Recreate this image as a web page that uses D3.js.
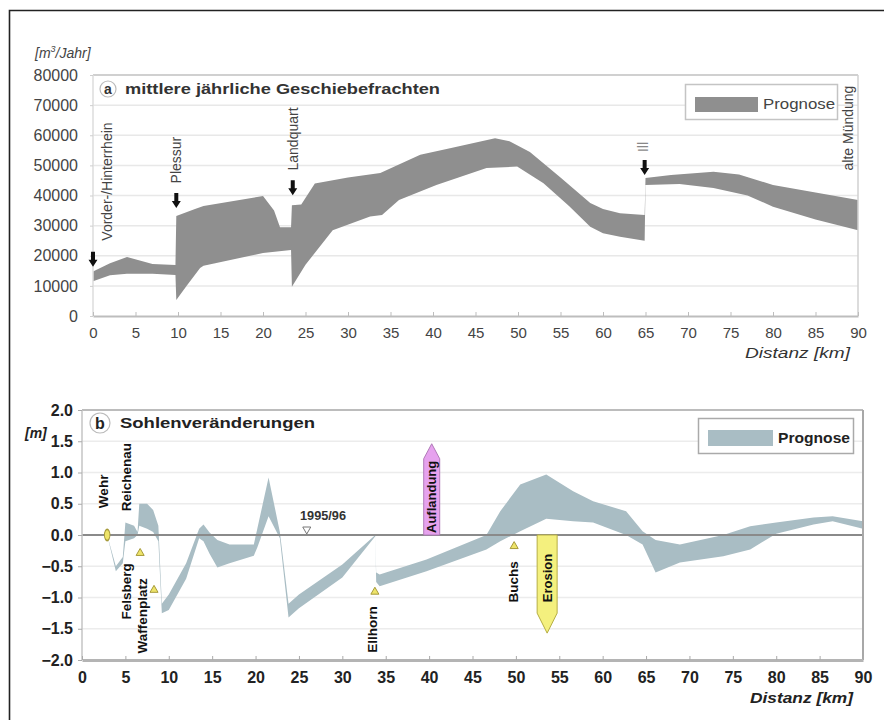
<!DOCTYPE html>
<html>
<head>
<meta charset="utf-8">
<script src="https://cdn.jsdelivr.net/npm/d3@7"></script>
<style>
  body { margin: 0; background: #fff; }
  svg { font-family: "Liberation Sans", Arial, sans-serif; }
</style>
</head>
<body>
<div id="chart"></div>
<script>
// ---- panel a: mittlere jährliche Geschiebefrachten [m3/Jahr] ----
const kmUpperA = [0, 2, 4, 7, 9.7, 9.8, 12, 13, 20, 21.3, 22, 23.3, 23.4, 24.5, 26.1, 30, 33.8, 38.5, 42, 47.3, 49, 51.4, 55, 58.5, 60, 62, 64.9, 65.0, 68, 73, 76, 80, 85, 90];
const upperA = [14800, 17500, 19600, 17300, 16900, 33200, 35500, 36500, 39800, 35000, 29500, 29500, 36800, 37000, 44000, 46000, 47500, 53500, 55700, 59000, 58000, 54400, 46000, 37500, 35500, 34100, 33500, 45800, 46800, 47900, 47000, 43500, 41000, 38500];
const kmLowerA = [0, 2, 4, 7, 9.7, 9.8, 11, 12.6, 13, 20, 23.3, 23.4, 25, 28.2, 32.6, 34, 36, 40.4, 46.3, 49.9, 53, 56, 58.5, 60, 62, 64.9, 65.0, 69, 73, 77, 80, 85, 90];
const lowerA = [11500, 13500, 14000, 14000, 13600, 5300, 10000, 15900, 16700, 20900, 21900, 9700, 17000, 28500, 33000, 33500, 38500, 43500, 49100, 49600, 44100, 36500, 29600, 27500, 26300, 25000, 43500, 43800, 42500, 40000, 36300, 32000, 28500];
const yTicksA = [0, 10000, 20000, 30000, 40000, 50000, 60000, 70000, 80000];
const xTicks = [0, 5, 10, 15, 20, 25, 30, 35, 40, 45, 50, 55, 60, 65, 70, 75, 80, 85, 90];

// tributaries (km, label) and arrow tops [m3/Jahr]
const riversA = ["Vorder-/Hinterrhein", "Plessur", "Landquart", "Ill", "alte Mündung"];
const riverKmA = [1.65, 9.76, 23.5, 64.7, 88.8];
const riverBaseA = [25000, 44000, 48300, 54400, 48300];
const arrowKmA = [0, 9.8, 23.5, 64.9];
const arrowTopA = [21300, 40800, 45100, 51800];

// ---- panel b: Sohlenveränderungen [m] ----
const kmB = [2.9, 3.9, 4.7, 5.0, 6.0, 6.4, 6.6, 7.5, 8.2, 8.8, 9.2, 10, 12, 13.5, 14, 14.7, 15.6, 17, 19.8, 20.2, 21.5, 22.8, 23.8, 25, 30, 33.8, 33.9, 34.3, 39.7, 46.6, 48.2, 50.5, 53.5, 56.6, 58.9, 62.7, 64.6, 66.1, 68.9, 73.9, 77, 80, 84.3, 86.5, 90];
const upperB = [0, -0.5, -0.35, 0.2, 0.15, 0.05, 0.5, 0.5, 0.4, 0.15, -1.1, -0.95, -0.45, 0.1, 0.17, 0.04, -0.08, -0.15, -0.15, 0.1, 0.92, 0.05, -1.1, -0.95, -0.47, 0, -0.6, -0.63, -0.39, 0, 0.38, 0.81, 0.97, 0.7, 0.54, 0.38, 0.06, -0.08, -0.15, 0, 0.14, 0.2, 0.28, 0.3, 0.22];
const lowerB = [0, -0.58, -0.45, -0.1, -0.05, 0, 0.15, 0.1, 0.05, -0.1, -1.25, -1.2, -0.7, -0.05, -0.1, -0.3, -0.52, -0.45, -0.33, -0.2, 0.3, -0.05, -1.32, -1.17, -0.68, -0.02, -0.75, -0.82, -0.58, -0.23, -0.1, 0.06, 0.26, 0.22, 0.2, 0, -0.15, -0.6, -0.44, -0.34, -0.23, 0.02, 0.17, 0.22, 0.1];
const yTicksB = [-2, -1.5, -1, -0.5, 0, 0.5, 1, 1.5, 2];

// gauges / weirs (yellow markers)
const markerKmB = [2.9, 6.7, 8.3, 33.75, 49.8];
const markerValB = [0, -0.29, -0.88, -0.91, -0.18];
// site labels: above = text ends above the zero line, below = hangs under it
const sitesB = ["Wehr", "Reichenau", "Felsberg", "Waffenplatz", "Ellhorn", "Buchs"];
const siteKmB = [2.4, 5.07, 5.07, 7.0, 33.4, 49.7];
const siteValB = [0.43, 0.38, -0.45, -0.69, -1.14, -0.42];
const siteSideB = ["above", "above", "below", "below", "below", "below"];

const width = 884;
const height = 720;

const svg = d3.select("#chart")
    .append("svg")
    .attr("width", width)
    .attr("height", height);

svg.append("rect").attr("width", width).attr("height", height).attr("fill", "#fff");

// outer frame (left + top only are visible)
svg.append("path")
    .attr("d", "M9.5,720 V10.5 H884")
    .attr("fill", "none")
    .attr("stroke", "#222")
    .attr("stroke-width", 1.6);

function vLabel(g, text, x, y, anchor, size, weight, color) {
    g.append("text")
        .attr("transform", `translate(${x},${y}) rotate(-90)`)
        .attr("dy", "0.35em")
        .attr("text-anchor", anchor)
        .attr("font-size", size)
        .attr("font-weight", weight)
        .attr("fill", color)
        .text(text);
}

// =================== panel a ===================
const xA = d3.scaleLinear().domain([0, 90]).range([93, 858]);
const yA = d3.scaleLinear().domain([0, 80000]).range([316, 75]);
const gA = svg.append("g");

gA.append("g")
    .selectAll("line")
    .data(yTicksA.slice(1, -1))
    .join("line")
    .attr("x1", xA(0)).attr("x2", xA(90))
    .attr("y1", d => yA(d)).attr("y2", d => yA(d))
    .attr("stroke", "#e8e8e8")
    .attr("stroke-width", 1.5);

const bandPtsA = kmUpperA.map((k, i) => [k, upperA[i]])
    .concat(kmLowerA.map((k, i) => [k, lowerA[i]]).reverse());
const lineA = d3.line().x(d => xA(d[0])).y(d => yA(d[1]));
gA.append("path")
    .attr("d", lineA(bandPtsA) + "Z")
    .attr("fill", "#8f8f8f");

// frame
gA.append("line").attr("x1", xA(0)).attr("x2", xA(90)).attr("y1", yA(80000)).attr("y2", yA(80000))
    .attr("stroke", "#d0d0d0").attr("stroke-width", 2);
gA.append("line").attr("x1", xA(90)).attr("x2", xA(90)).attr("y1", yA(80000)).attr("y2", yA(0))
    .attr("stroke", "#d0d0d0").attr("stroke-width", 1.5);
gA.append("line").attr("x1", xA(0)).attr("x2", xA(0)).attr("y1", yA(80000)).attr("y2", yA(0))
    .attr("stroke", "#dcdcdc").attr("stroke-width", 1.5);

const axAx = gA.append("g")
    .attr("transform", `translate(0,${yA(0)})`)
    .call(d3.axisBottom(xA).tickValues(xTicks).tickSizeInner(-4).tickSizeOuter(0).tickPadding(11));
axAx.select(".domain").attr("stroke", "#bdbdbd").attr("stroke-width", 2);
axAx.selectAll(".tick line").attr("stroke", "#bdbdbd");
axAx.selectAll("text").attr("font-size", 15).attr("fill", "#444").attr("font-family", null);

const axAy = gA.append("g")
    .attr("transform", `translate(${xA(0)},0)`)
    .call(d3.axisLeft(yA).tickValues(yTicksA).tickFormat(d3.format("d")).tickSizeInner(3).tickSizeOuter(0).tickPadding(12));
axAy.select(".domain").remove();
axAy.selectAll(".tick line").attr("stroke", "#cfcfcf");
axAy.selectAll("text").attr("font-size", 16).attr("fill", "#444").attr("font-family", null);

// unit
const unitA = gA.append("text").attr("x", 35).attr("y", 58)
    .attr("font-size", 14).attr("font-style", "italic").attr("fill", "#444");
unitA.append("tspan").text("[m");
unitA.append("tspan").attr("font-size", 9).attr("dy", -6).text("3");
unitA.append("tspan").attr("dy", 6).text("/Jahr]");

// title
gA.append("circle").attr("cx", 108).attr("cy", 89).attr("r", 8)
    .attr("fill", "none").attr("stroke", "#bbb").attr("stroke-width", 1.2);
gA.append("text").attr("x", 108).attr("y", 94).attr("text-anchor", "middle")
    .attr("font-size", 14).attr("font-weight", "bold").attr("fill", "#333").text("a");
gA.append("text").attr("x", 125).attr("y", 94)
    .attr("font-size", 15).attr("font-weight", "bold").attr("fill", "#333")
    .attr("textLength", 315).attr("lengthAdjust", "spacingAndGlyphs")
    .text("mittlere jährliche Geschiebefrachten");

// legend
gA.append("rect").attr("x", 685.5).attr("y", 84.5).attr("width", 152).attr("height", 35)
    .attr("fill", "#fff").attr("stroke", "#c4c4c4").attr("stroke-width", 1.5);
gA.append("rect").attr("x", 695).attr("y", 97).attr("width", 63).attr("height", 15).attr("fill", "#8f8f8f");
gA.append("text").attr("x", 763).attr("y", 109)
    .attr("font-size", 15).attr("fill", "#444")
    .attr("textLength", 72).attr("lengthAdjust", "spacingAndGlyphs")
    .text("Prognose");

// tributary labels and arrows
riversA.forEach((r, i) => {
    vLabel(gA, r, xA(riverKmA[i]), yA(riverBaseA[i]), "start", 14, "normal", r === "Ill" ? "#888" : "#444");
});
arrowKmA.forEach((k, i) => {
    const x = xA(k), y0 = yA(arrowTopA[i]);
    gA.append("path")
        .attr("d", `M${x - 2},${y0} h4 v8 h2.5 l-4.5,7 l-4.5,-7 h2.5 z`)
        .attr("fill", "#111");
});

gA.append("text").attr("x", 850).attr("y", 358).attr("text-anchor", "end")
    .attr("font-size", 15).attr("font-style", "italic").attr("fill", "#333")
    .attr("textLength", 105).attr("lengthAdjust", "spacingAndGlyphs")
    .text("Distanz [km]");

// =================== panel b ===================
const xB = d3.scaleLinear().domain([0, 90]).range([82, 863]);
const yB = d3.scaleLinear().domain([-2, 2]).range([660, 410]);
const gB = svg.append("g");

gB.append("g")
    .selectAll("line")
    .data(yTicksB.filter(d => d !== 0 && d !== 2 && d !== -2))
    .join("line")
    .attr("x1", xB(0)).attr("x2", xB(90))
    .attr("y1", d => yB(d)).attr("y2", d => yB(d))
    .attr("stroke", "#ececec")
    .attr("stroke-width", 1.5);

const areaB = d3.area()
    .x((d, i) => xB(kmB[i]))
    .y0((d, i) => yB(lowerB[i]))
    .y1((d, i) => yB(upperB[i]));
gB.append("path")
    .attr("d", areaB(kmB))
    .attr("fill", "#a9bdc4");

// zero line
gB.append("line").attr("x1", xB(0)).attr("x2", xB(90)).attr("y1", yB(0)).attr("y2", yB(0))
    .attr("stroke", "#8a8a8a").attr("stroke-width", 2);

// frame
gB.append("line").attr("x1", xB(0)).attr("x2", xB(90)).attr("y1", yB(2)).attr("y2", yB(2))
    .attr("stroke", "#bcbcbc").attr("stroke-width", 2);
gB.append("line").attr("x1", xB(90)).attr("x2", xB(90)).attr("y1", yB(2)).attr("y2", yB(-2))
    .attr("stroke", "#a8a8a8").attr("stroke-width", 2);
gB.append("line").attr("x1", xB(0)).attr("x2", xB(0)).attr("y1", yB(2)).attr("y2", yB(-2))
    .attr("stroke", "#c4c4c4").attr("stroke-width", 1.5);

const axBx = gB.append("g")
    .attr("transform", `translate(0,${yB(-2)})`)
    .call(d3.axisBottom(xB).tickValues(xTicks).tickSizeInner(-4).tickSizeOuter(0).tickPadding(12));
axBx.select(".domain").attr("stroke", "#b4b4b4").attr("stroke-width", 3);
axBx.selectAll(".tick line").attr("stroke", "#aaa");
axBx.selectAll("text").attr("font-size", 16).attr("font-weight", "bold").attr("fill", "#222").attr("font-family", null);

const axBy = gB.append("g")
    .attr("transform", `translate(${xB(0)},0)`)
    .call(d3.axisLeft(yB).tickValues(yTicksB).tickFormat(d3.format(".1f")).tickSizeInner(4).tickSizeOuter(0).tickPadding(5));
axBy.select(".domain").remove();
axBy.selectAll(".tick line").attr("stroke", "#aaa");
axBy.selectAll("text").attr("font-size", 16).attr("font-weight", "bold").attr("fill", "#222").attr("font-family", null);

gB.append("text").attr("x", 25).attr("y", 438)
    .attr("font-size", 14).attr("font-style", "italic").attr("font-weight", "bold").attr("fill", "#222")
    .text("[m]");

// title
gB.append("circle").attr("cx", 100).attr("cy", 423).attr("r", 10)
    .attr("fill", "none").attr("stroke", "#bbb").attr("stroke-width", 1.2);
gB.append("text").attr("x", 100).attr("y", 429).attr("text-anchor", "middle")
    .attr("font-size", 16).attr("font-weight", "bold").attr("fill", "#222").text("b");
gB.append("text").attr("x", 120).attr("y", 428)
    .attr("font-size", 15).attr("font-weight", "bold").attr("fill", "#222")
    .attr("textLength", 195).attr("lengthAdjust", "spacingAndGlyphs")
    .text("Sohlenveränderungen");

// legend
gB.append("rect").attr("x", 698.5).attr("y", 418.5).attr("width", 155).attr("height", 35)
    .attr("fill", "#fff").attr("stroke", "#aaa").attr("stroke-width", 1.5);
gB.append("rect").attr("x", 708).attr("y", 430).attr("width", 65).attr("height", 16).attr("fill", "#a9bdc4");
gB.append("text").attr("x", 778).attr("y", 443)
    .attr("font-size", 15).attr("font-weight", "bold").attr("fill", "#222")
    .attr("textLength", 72).attr("lengthAdjust", "spacingAndGlyphs")
    .text("Prognose");

// markers
gB.append("g")
    .selectAll("path")
    .data(markerKmB)
    .join("path")
    .attr("transform", (d, i) => `translate(${xB(d)},${yB(markerValB[i])})` + (i === 0 ? " scale(0.9,1.8)" : ""))
    .attr("d", (d, i) => d3.symbol().type(i === 0 ? d3.symbolCircle : d3.symbolTriangle).size(i === 0 ? 30 : 28)())
    .attr("fill", "#eee46a")
    .attr("stroke", "#a69a3a")
    .attr("stroke-width", 1);

sitesB.forEach((s, i) => {
    vLabel(gB, s, xB(siteKmB[i]), yB(siteValB[i]),
        siteSideB[i] === "above" ? "start" : "end", 13.5, "bold", "#111");
});

// 1995/96 reference mark
gB.append("text").attr("x", 300).attr("y", 520)
    .attr("font-size", 13).attr("font-weight", "bold").attr("fill", "#333")
    .attr("textLength", 46).attr("lengthAdjust", "spacingAndGlyphs")
    .text("1995/96");
gB.append("path")
    .attr("d", `M${xB(25.9) - 4},${yB(0) - 8} h8 l-4,7 z`)
    .attr("fill", "none").attr("stroke", "#777").attr("stroke-width", 1);

// Auflandung / Erosion arrows
const auflKm = 40.3, erosKm = 53.6;
const xa = xB(auflKm);
gB.append("path")
    .attr("d", `M${xa - 8},${yB(0)} V${yB(1.22)} L${xa},${yB(1.46)} L${xa + 8},${yB(1.22)} V${yB(0)} Z`)
    .attr("fill", "#e6a2ee").attr("stroke", "#b07ab8").attr("stroke-width", 1);
vLabel(gB, "Auflandung", xa, (yB(0) + yB(1.22)) / 2, "middle", 13, "bold", "#111");

const xe = xB(erosKm);
gB.append("path")
    .attr("d", `M${xe - 10},${yB(0)} V${yB(-1.25)} L${xe},${yB(-1.57)} L${xe + 10},${yB(-1.25)} V${yB(0)} Z`)
    .attr("fill", "#f4f07e").attr("stroke", "#b6ae44").attr("stroke-width", 1);
vLabel(gB, "Erosion", xe, (yB(0) + yB(-1.25)) / 2 + 4, "middle", 13, "bold", "#111");

gB.append("text").attr("x", 853).attr("y", 703).attr("text-anchor", "end")
    .attr("font-size", 15).attr("font-style", "italic").attr("font-weight", "bold").attr("fill", "#222")
    .attr("textLength", 103).attr("lengthAdjust", "spacingAndGlyphs")
    .text("Distanz [km]");
</script>
</body>
</html>
